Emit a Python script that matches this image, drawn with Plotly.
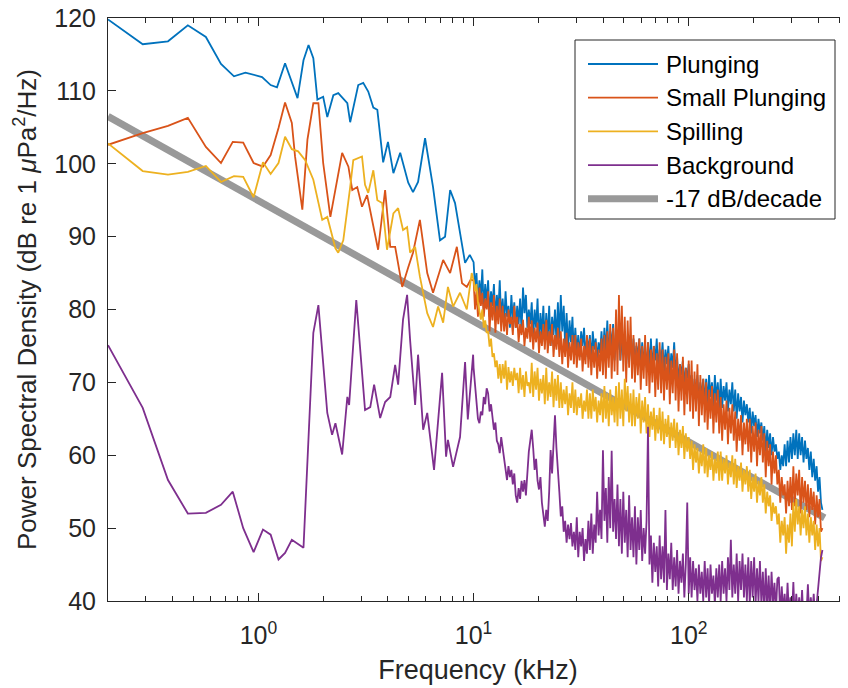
import numpy as np
import plotly.graph_objects as go

# ---------------- data ----------------
# Low-frequency part (kHz, dB) for each series
plunging_f_low = [0.2, 0.29, 0.38, 0.47, 0.57, 0.67, 0.77, 0.87, 1.04, 1.14, 1.22, 1.33, 1.52, 1.62,
                  1.71, 1.80, 1.88, 2.0, 2.09, 2.23, 2.35, 2.59, 2.67, 2.91, 3.07, 3.24, 3.42, 3.57,
                  3.8, 4.0, 4.24, 4.56, 4.97, 5.23, 5.52, 5.95, 6.48, 6.98, 7.37, 7.78, 8.2, 8.67,
                  9.13, 9.6]
plunging_db_low = [119.8, 116.4, 116.8, 119.0, 117.4, 113.7, 112.0, 112.5, 111.9, 110.8, 110.5, 113.8,
                   109.0, 114.2, 116.3, 114.5, 108.8, 109.2, 106.4, 109.4, 109.7, 108.3, 105.7, 110.8,
                   111.1, 109.9, 107.7, 107.4, 100.2, 103.0, 98.7, 101.5, 97.4, 96.1, 97.5, 103.5,
                   96.8, 89.5, 90.0, 96.4, 94.6, 90.0, 86.4, 87.5]

small_f_low = [0.2, 0.29, 0.38, 0.47, 0.57, 0.67, 0.76, 0.85, 0.95, 1.05, 1.14, 1.24, 1.33, 1.43,
               1.48, 1.6, 1.69, 1.8, 1.9, 2.0, 2.16, 2.28, 2.45, 2.62, 2.73, 2.88, 3.03, 3.2, 3.38,
               3.6, 3.88, 4.1, 4.32, 4.66, 4.97, 5.23, 5.63, 6.09, 6.48, 7.22, 7.78, 8.36, 8.84,
               9.3, 9.7]
small_db_low = [102.6, 104.2, 105.2, 106.3, 102.3, 100.1, 103.0, 102.9, 100.1, 99.6, 101.2, 104.9,
                108.4, 105.6, 101.0, 93.7, 103.3, 108.3, 108.3, 100.1, 92.7, 96.4, 101.5, 99.6, 96.4,
                96.8, 94.1, 95.7, 92.3, 88.2, 96.4, 88.6, 88.6, 83.1, 85.8, 87.8, 92.3, 85.0, 82.3,
                86.8, 85.0, 88.6, 83.6, 83.1, 84.1]

spilling_f_low = [0.2, 0.29, 0.38, 0.47, 0.57, 0.67, 0.77, 0.85, 0.95, 1.05, 1.14, 1.24, 1.33, 1.43,
                  1.53, 1.65, 1.8, 1.98, 2.09, 2.28, 2.35, 2.48, 2.67, 2.76, 3.03, 3.13, 3.24, 3.42,
                  3.57, 3.76, 3.96, 4.24, 4.46, 4.7, 4.91, 5.07, 5.35, 5.63, 6.09, 6.48, 6.84, 7.22,
                  7.6, 8.03, 8.65, 9.3, 9.8]
spilling_db_low = [102.8, 99.0, 98.5, 98.9, 99.7, 97.5, 98.3, 98.2, 95.4, 100.2, 98.6, 100.1, 103.7,
                   102.0, 101.7, 100.5, 97.8, 92.3, 92.7, 88.4, 87.8, 89.5, 96.8, 100.5, 101.0, 97.1,
                   96.0, 99.1, 95.0, 94.6, 88.2, 93.2, 93.9, 90.9, 91.3, 87.8, 88.6, 84.5, 79.5, 77.6,
                   80.4, 78.2, 83.1, 80.4, 82.3, 80.0, 85.0]

background_f_low = [0.2, 0.29, 0.38, 0.47, 0.57, 0.67, 0.76, 0.85, 0.95, 1.05, 1.14, 1.24, 1.33,
                    1.43, 1.62, 1.8, 1.9, 2.09, 2.2, 2.28, 2.45, 2.59, 2.64, 2.85, 3.13, 3.31, 3.45,
                    3.68, 3.88, 4.1, 4.32, 4.46, 4.7, 4.91, 5.07, 5.35, 5.52, 5.83, 6.09, 6.55, 7.14,
                    7.45, 7.6, 8.03, 8.65, 9.13, 9.4, 9.95]
background_db_low = [75.1, 66.5, 56.6, 52.0, 52.1, 53.2, 55.0, 50.0, 46.7, 49.8, 49.1, 45.7, 46.6,
                     48.4, 47.3, 76.8, 80.6, 65.8, 62.8, 64.4, 60.1, 68.0, 66.9, 81.3, 66.2, 66.6,
                     69.7, 65.1, 67.3, 68.0, 72.4, 69.7, 78.6, 82.0, 75.8, 66.9, 73.8, 63.5, 65.8,
                     58.0, 71.3, 59.8, 62.1, 58.4, 62.5, 72.8, 64.9, 73.8]

# High-frequency part: shared frequency grid 10 - 418 kHz (241 points), values read per series
f_high = np.geomspace(10, 418, 241)

plunging_db_high = [
    86.5, 83.0, 85.0, 80.5, 84.0, 81.5, 85.5, 80.0, 83.5, 81.0,
    84.0, 79.0, 82.5, 80.5, 83.5, 78.5, 82.0, 79.5, 84.0, 78.5,
    81.5, 78.0, 82.5, 79.0, 80.5, 77.5, 82.0, 78.5, 81.0, 77.5,
    80.5, 78.0, 81.5, 77.0, 83.0, 79.5, 82.0, 77.5, 80.0, 78.0,
    81.0, 76.0, 80.0, 77.5, 81.5, 75.5, 79.5, 76.5, 80.5, 75.5,
    79.5, 76.0, 80.5, 75.0, 79.0, 76.5, 80.0, 75.5, 81.0, 76.0,
    82.0, 77.0, 80.5, 75.0, 79.5, 74.5, 78.5, 75.5, 79.0, 74.0,
    77.5, 74.0, 76.5, 73.5, 77.0, 75.0, 77.5, 73.5, 76.0, 74.5,
    76.5, 73.0, 77.0, 74.5, 76.0, 73.0, 75.5, 74.0, 77.0, 73.5,
    77.5, 74.0, 78.5, 73.5, 77.0, 75.0, 78.0, 73.0, 76.5, 74.5,
    77.0, 73.0, 76.0, 74.0, 76.5, 72.5, 75.5, 73.5, 76.5, 72.5,
    76.0, 72.5, 75.0, 73.5, 76.0, 72.0, 75.5, 73.0, 74.5, 72.0,
    75.5, 72.0, 76.0, 71.5, 75.0, 73.0, 76.0, 71.5, 74.5, 72.5,
    75.5, 71.5, 74.5, 72.5, 75.0, 71.0, 74.0, 72.0, 75.5, 71.0,
    73.5, 70.0, 72.5, 71.0, 73.0, 69.5, 72.0, 70.5, 72.5, 69.5,
    71.0, 67.5, 70.5, 68.5, 71.0, 67.0, 70.0, 68.0, 70.5, 67.0,
    70.5, 67.0, 71.0, 68.0, 70.0, 66.5, 71.0, 67.5, 70.0, 66.5,
    70.5, 66.5, 69.5, 67.5, 70.0, 66.0, 69.0, 67.0, 70.0, 66.0,
    69.0, 65.0, 68.5, 66.0, 68.0, 64.5, 67.5, 65.5, 67.0, 64.5,
    66.5, 63.0, 66.0, 64.0, 65.5, 62.5, 65.0, 63.0, 64.5, 62.0,
    64.0, 60.5, 63.5, 61.0, 63.0, 60.0, 62.5, 60.5, 61.5, 59.5,
    60.5, 58.0, 60.0, 58.5, 61.5, 58.5, 62.0, 59.0, 62.5, 59.5,
    63.0, 60.0, 63.5, 59.5, 63.0, 60.0, 62.5, 59.0, 62.0, 59.5,
    61.0, 58.0, 60.5, 57.0, 59.5, 56.5, 58.5, 55.0, 57.0, 53.5,
    52.5]

small_db_high = [
    84.0, 80.0, 82.5, 79.0, 83.0, 80.5, 82.3, 79.0, 81.5, 80.0,
    82.5, 77.0, 81.0, 78.5, 82.0, 76.8, 80.5, 78.0, 81.5, 77.0,
    80.5, 77.0, 79.5, 76.5, 80.0, 78.0, 79.0, 76.5, 80.5, 77.5,
    79.0, 75.5, 78.0, 76.5, 78.6, 75.0, 77.5, 76.0, 79.0, 75.5,
    78.5, 74.5, 77.5, 75.5, 78.2, 74.0, 77.0, 75.0, 78.0, 74.5,
    78.6, 74.0, 77.0, 75.0, 78.0, 73.5, 76.5, 74.5, 77.5, 73.5,
    77.0, 72.5, 76.0, 73.5, 76.8, 72.0, 75.5, 73.0, 76.5, 72.5,
    76.5, 72.0, 75.5, 73.0, 76.0, 71.5, 75.0, 72.5, 76.5, 72.0,
    76.0, 71.0, 75.0, 72.0, 75.5, 70.5, 74.5, 71.5, 76.0, 71.0,
    76.5, 70.5, 77.0, 72.0, 78.0, 70.5, 77.5, 71.5, 80.0, 71.0,
    82.0, 73.0, 80.5, 71.5, 79.0, 70.0, 78.5, 72.0, 79.0, 70.5,
    76.5, 70.0, 75.5, 71.0, 76.0, 69.0, 75.0, 70.5, 76.5, 69.5,
    75.5, 68.5, 74.5, 70.0, 75.0, 68.0, 74.0, 69.0, 75.5, 68.5,
    74.5, 67.5, 73.5, 69.0, 74.0, 67.0, 73.0, 68.5, 74.5, 67.5,
    74.0, 66.0, 72.5, 67.5, 73.5, 65.5, 72.0, 67.0, 73.0, 66.0,
    73.0, 65.0, 71.5, 66.0, 72.5, 64.0, 71.0, 65.5, 70.5, 64.5,
    70.0, 63.5, 69.0, 65.0, 69.5, 63.0, 68.5, 64.5, 69.0, 63.0,
    68.0, 62.0, 67.0, 63.5, 67.5, 61.5, 66.5, 63.0, 67.0, 62.0,
    66.0, 60.5, 65.0, 62.0, 65.5, 60.0, 64.5, 61.5, 65.0, 60.5,
    65.0, 59.0, 64.0, 60.5, 64.5, 58.5, 63.5, 60.0, 64.0, 59.0,
    63.0, 57.0, 62.0, 58.5, 61.5, 56.0, 60.5, 57.5, 60.0, 56.0,
    58.0, 53.5, 57.0, 54.5, 56.0, 52.0, 56.5, 53.0, 57.0, 52.5,
    58.5, 53.0, 57.5, 54.5, 58.0, 52.0, 57.0, 53.5, 56.5, 52.5,
    56.0, 51.5, 55.5, 52.5, 55.0, 50.5, 54.5, 51.5, 54.0, 49.5,
    50.0]

spilling_db_high = [
    84.0, 82.5, 83.5, 81.0, 80.0, 78.6, 80.0, 77.5, 78.5, 76.8,
    77.0, 74.9, 76.0, 73.5, 74.0, 72.1, 73.0, 70.5, 72.5, 69.9,
    72.5, 70.5, 73.0, 69.0, 72.1, 70.0, 71.5, 69.5, 72.0, 70.3,
    71.3, 68.5, 72.0, 69.0, 71.0, 68.0, 71.5, 69.5, 70.0, 68.5,
    72.7, 68.0, 71.5, 69.0, 72.0, 67.5, 70.5, 68.5, 71.0, 67.0,
    72.0, 67.5, 70.0, 68.0, 71.5, 66.6, 70.5, 67.5, 71.0, 66.5,
    70.0, 66.5, 69.0, 67.0, 69.5, 65.5, 68.5, 66.5, 70.0, 65.8,
    69.0, 65.5, 68.0, 66.5, 68.5, 65.0, 67.5, 66.0, 69.0, 65.0,
    68.5, 65.0, 69.0, 66.0, 68.0, 64.5, 67.5, 65.5, 68.5, 64.5,
    69.5, 65.0, 68.5, 64.0, 69.0, 65.5, 68.0, 64.5, 69.5, 64.0,
    70.0, 65.0, 69.0, 64.0, 70.5, 66.0, 69.5, 64.5, 68.5, 64.0,
    69.0, 64.0, 68.0, 65.0, 68.5, 63.0, 67.5, 64.5, 68.0, 63.0,
    67.0, 62.5, 66.0, 63.5, 66.5, 62.0, 65.5, 63.0, 66.5, 62.0,
    66.0, 61.5, 65.0, 62.5, 65.5, 61.0, 64.5, 62.0, 65.0, 61.0,
    64.5, 60.0, 63.5, 61.0, 64.0, 59.5, 63.0, 60.5, 62.5, 59.5,
    62.0, 58.0, 61.5, 59.0, 61.0, 57.5, 60.5, 58.5, 61.5, 57.5,
    61.0, 57.0, 60.0, 58.0, 60.5, 56.5, 59.5, 57.5, 60.5, 56.5,
    60.5, 56.5, 59.5, 57.5, 60.0, 56.0, 59.0, 57.0, 60.0, 56.0,
    59.5, 55.5, 58.5, 56.5, 59.0, 55.0, 58.0, 56.0, 58.5, 55.0,
    58.0, 54.0, 57.0, 55.0, 57.5, 53.5, 56.5, 54.5, 57.0, 53.5,
    56.0, 52.0, 55.0, 53.0, 54.5, 51.0, 53.5, 52.0, 53.0, 50.5,
    52.0, 48.0, 51.0, 49.0, 51.5, 46.5, 50.5, 48.0, 52.0, 47.5,
    53.5, 49.5, 54.0, 50.5, 53.0, 49.0, 52.5, 50.0, 53.0, 49.0,
    52.0, 48.0, 51.5, 49.0, 51.0, 47.0, 50.5, 47.5, 50.0, 45.5,
    46.0]

background_db_high = [
    72.0, 69.5, 67.2, 65.0, 64.4, 66.0, 65.5, 68.0, 67.0, 69.2,
    68.5, 66.0, 67.0, 65.3, 63.5, 64.5, 62.0, 61.5, 60.3, 62.5,
    61.0, 59.0, 57.5, 56.6, 58.5, 57.0, 58.0, 56.0, 57.5, 54.5,
    53.5, 55.5, 54.0, 56.5, 55.0, 56.6, 54.5, 58.0, 60.5, 62.0,
    63.5, 61.0, 58.0, 59.5, 56.5, 55.3, 57.0, 53.5, 52.0, 50.2,
    52.5, 51.0, 55.0, 60.7, 57.5, 62.0, 65.5, 61.0, 58.4, 55.0,
    51.6, 53.0, 49.5, 51.0, 48.0, 50.5, 48.5, 50.7, 47.5, 49.5,
    47.0, 51.5, 46.0, 49.5, 47.5, 50.0, 45.5, 48.5, 46.5, 51.0,
    47.0, 52.0, 46.5, 50.5, 48.0, 55.0, 49.0, 52.5, 48.5, 60.7,
    51.0, 55.5, 48.0, 57.0, 50.0, 60.6, 49.5, 54.0, 48.5, 56.0,
    47.5, 54.0, 46.5, 55.0, 48.0, 52.5, 46.0, 54.5, 47.0, 51.5,
    46.0, 53.0, 45.0, 51.5, 47.0, 52.5, 45.5, 50.0, 46.5, 51.0,
    63.9, 45.0, 49.0, 42.5, 48.0, 44.0, 47.5, 42.0, 49.0, 43.0,
    47.5, 42.5, 52.5, 41.5, 46.5, 43.0, 48.0, 41.5, 46.0, 42.0,
    47.0, 41.0, 45.5, 42.5, 46.5, 40.5, 45.0, 53.5, 41.0, 46.0,
    40.5, 45.5, 41.5, 44.5, 40.0, 45.0, 41.0, 44.0, 40.0, 45.5,
    40.5, 44.5, 39.5, 45.0, 41.0, 43.5, 39.5, 44.5, 40.5, 45.0,
    40.0, 45.5, 41.0, 44.5, 40.0, 46.0, 41.5, 48.4, 40.5, 45.0,
    41.0, 46.5, 40.0, 45.5, 41.5, 46.5, 40.5, 45.0, 40.0, 46.0,
    39.5, 45.5, 40.5, 46.0, 39.5, 44.5, 40.0, 45.5, 39.5, 44.0,
    38.5, 44.5, 39.0, 43.5, 38.5, 44.0, 39.5, 42.5, 38.5, 43.0,
    43.3, 37.5, 42.0, 38.5, 41.0, 37.5, 42.5, 38.0, 40.5, 37.5,
    42.6, 37.0, 41.0, 38.0, 40.5, 37.5, 41.5, 37.0, 40.0, 38.0,
    42.3, 37.5, 40.5, 38.0, 41.0, 37.5, 39.5, 42.0, 44.5, 46.0,
    47.0]

# -17 dB/decade reference line
ref_f = [0.2, 428]
ref_db = [106.5, 51.4]

# axis ticks
x_tickvals = [1, 10, 100]
x_ticktext = ["10<sup>0</sup>", "10<sup>1</sup>", "10<sup>2</sup>"]
x_minor = [m * d for d in (0.1, 1, 10, 100) for m in range(2, 10) if m * d <= 550]
y_tickvals = [40, 50, 60, 70, 80, 90, 100, 110, 120]

series_names = ["Plunging", "Small Plunging", "Spilling", "Background"]
series_colors = ["#0072BD", "#D95319", "#EDB120", "#7E2F8E"]
series_f_low = [plunging_f_low, small_f_low, spilling_f_low, background_f_low]
series_db_low = [plunging_db_low, small_db_low, spilling_db_low, background_db_low]
series_db_high = [plunging_db_high, small_db_high, spilling_db_high, background_db_high]
ref_name = "-17 dB/decade"
ref_color = "#999999"

# ---------------- figure ----------------
FONT = "Liberation Sans, Arial, Helvetica, sans-serif"
AX = "#262626"
PAGE_OFF = 8                     # default body margin of the html page
W, H = 840, 680
ML, MR, MT, MB = 100, 0, 10, 87
PW, PH = W - ML - MR, H - MT - MB
LW = 1.8


def px2paper(px, py):
    """page pixel -> paper coordinates"""
    return (px - PAGE_OFF - ML) / PW, 1 - (py - PAGE_OFF - MT) / PH


fig = go.Figure()

# reference line drawn first (beneath the spectra)
fig.add_trace(go.Scatter(
    x=ref_f, y=ref_db, mode="lines", name=ref_name,
    line=dict(color=ref_color, width=7), showlegend=False))

for name, color, f_low, db_low, db_high in zip(series_names, series_colors, series_f_low,
                                               series_db_low, series_db_high):
    fig.add_trace(go.Scatter(
        x=list(f_low) + list(f_high), y=list(db_low) + list(db_high),
        mode="lines", name=name, line=dict(color=color, width=LW), showlegend=False))

# legend box (MATLAB style: long line samples)
shapes = []
annotations = []
bx0, by0 = px2paper(575, 219)
bx1, by1 = px2paper(835, 40)
shapes.append(dict(type="rect", xref="paper", yref="paper", x0=bx0, y0=by0, x1=bx1, y1=by1,
                   line=dict(color=AX, width=1), fillcolor="white", layer="above"))
leg_names = series_names + [ref_name]
leg_colors = series_colors + [ref_color]
leg_widths = [LW, LW, LW, LW, 7]
for k, (nm, col, lw) in enumerate(zip(leg_names, leg_colors, leg_widths)):
    py = 64 + k * 33.7
    lx0, ly = px2paper(588, py)
    lx1, _ = px2paper(658, py)
    shapes.append(dict(type="line", xref="paper", yref="paper", x0=lx0, x1=lx1, y0=ly, y1=ly,
                       line=dict(color=col, width=lw), layer="above"))
    tx, ty = px2paper(664, py)
    annotations.append(dict(xref="paper", yref="paper", x=tx, y=ty, text=nm, showarrow=False,
                            xanchor="left", yanchor="middle",
                            font=dict(family=FONT, size=24, color="black")))

fig.update_layout(
    width=W, height=H,
    margin=dict(l=ML, r=MR, t=MT, b=MB, autoexpand=False),
    paper_bgcolor="white", plot_bgcolor="white",
    font=dict(family=FONT, color=AX, size=25),
    showlegend=False,
    shapes=shapes, annotations=annotations,
)

fig.update_xaxes(
    type="log", range=[np.log10(0.2), 2.740], automargin=False,
    showline=True, linecolor=AX, linewidth=1, mirror="ticks",
    showgrid=False, zeroline=False,
    ticks="inside", ticklen=8, tickwidth=1, tickcolor=AX,
    tickmode="array", tickvals=x_tickvals, ticktext=x_ticktext,
    tickfont=dict(size=25, color=AX), ticklabelstandoff=12, ticklabeloverflow="allow",
    minor=dict(tickmode="array", tickvals=x_minor, ticks="inside", ticklen=5,
               tickwidth=1, tickcolor=AX, showgrid=False),
    title=dict(text="Frequency (kHz)", font=dict(size=27, color=AX), standoff=12),
)

fig.update_yaxes(
    range=[40, 120], automargin=False,
    showline=True, linecolor=AX, linewidth=1, mirror=False,
    showgrid=False, zeroline=False,
    ticks="inside", ticklen=8, tickwidth=1, tickcolor=AX,
    tickmode="array", tickvals=y_tickvals,
    tickfont=dict(size=25, color=AX), ticklabelstandoff=6, ticklabeloverflow="allow",
    title=dict(text="Power Spectral Density (dB re 1 <i>μ</i>Pa<sup>2</sup>/Hz)",
               font=dict(size=26, color=AX), standoff=10),
)

fig.write_html("out.html")
